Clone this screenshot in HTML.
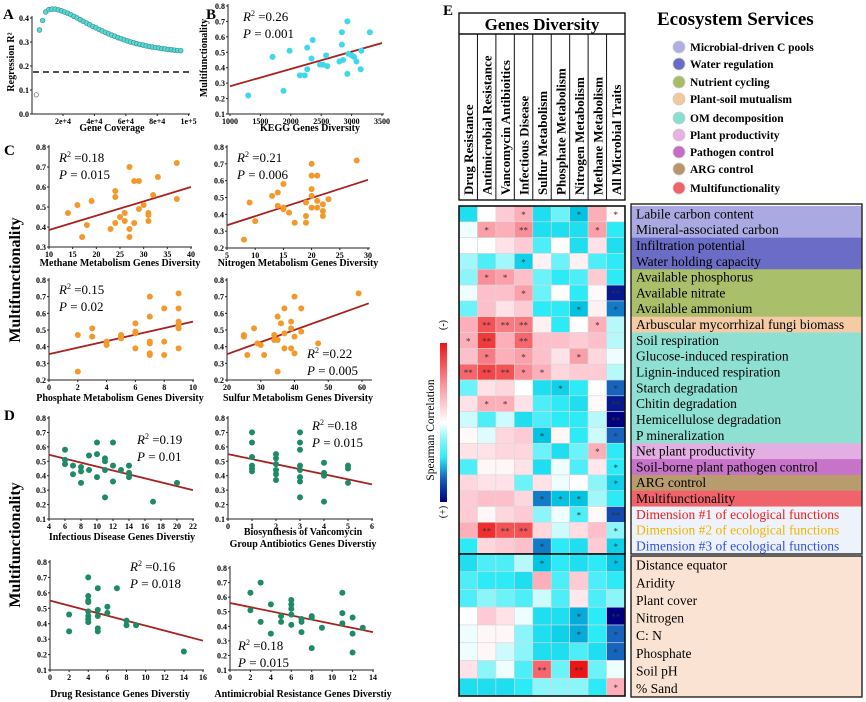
<!DOCTYPE html>
<html><head><meta charset="utf-8"><style>
html,body{margin:0;padding:0;background:#fff;}
svg{display:block;font-family:"Liberation Serif",serif;}
.tk{font-size:8px;font-weight:bold;}
.at{font-size:10px;font-weight:bold;}
.st{font-size:13px;}
</style></head><body>
<svg id="fig" width="866" height="702" viewBox="0 0 866 702" xmlns="http://www.w3.org/2000/svg"></svg>
<script>
// ---------- DATA ----------
const aCoverage=[5000,7000,9000,11000,13000,15000,17000,19000,21000,23000,25000,27000,29000,31000,33000,35000,37000,39000,41000,43000,45000,47000,49000,51000,53000,55000,57000,59000,61000,63000,65000,67000,69000,71000,73000,75000,77000,79000,81000,83000,85000,87000,89000,91000,93000,95000];
const aR2=[.35,.39,.425,.435,.437,.437,.434,.430,.425,.420,.414,.407,.400,.393,.386,.379,.372,.365,.359,.352,.346,.340,.334,.329,.324,.318,.314,.309,.305,.300,.297,.293,.290,.287,.284,.281,.279,.277,.275,.273,.271,.269,.268,.266,.265,.264];
const aHollow=[3000,0.08];
const aThreshold=0.175;
const aYTicks=[0,0.1,0.2,0.3,0.4];
const aXTicks=[20000,40000,60000,80000,100000];
const aXTickLabels=["2e+4","4e+4","6e+4","8e+4","1e+5"];

const bPts=[[1300,.22],[1700,.47],[1880,.25],[1980,.51],[2150,.35],[2230,.35],[2270,.39],[2270,.53],[2340,.46],[2360,.58],[2480,.42],[2530,.42],[2580,.48],[2600,.41],[2800,.44],[2840,.55],[2840,.63],[2860,.45],[2930,.36],[2930,.70],[2950,.49],[3000,.48],[3040,.47],[3080,.44],[3160,.51],[3150,.39],[3300,.63]];
const bLine=[[1000,.28],[3500,.56]];
const methanePts=[[14,.47],[16,.51],[17,.35],[18,.41],[19,.53],[23,.39],[24,.58],[24,.55],[24,.42],[25,.45],[26,.47],[26,.43],[27,.70],[27,.39],[27,.35],[28,.63],[28,.42],[29,.63],[29,.49],[30,.51],[31,.47],[31,.46],[31,.43],[32,.56],[33,.65],[37,.72],[37,.54]];
const methaneLine=[[10,.385],[40,.60]];
const nitrogenPts=[[8,.25],[9,.47],[10,.36],[13,.51],[14,.53],[14,.45],[15,.58],[15,.44],[15,.43],[16,.41],[17,.35],[19,.47],[19,.39],[19,.35],[20,.70],[20,.63],[20,.55],[20,.51],[20,.44],[21,.63],[21,.48],[21,.44],[22,.46],[22,.42],[22,.39],[23,.49],[28,.72]];
const nitrogenLine=[[5,.335],[30,.605]];
const phosphatePts=[[2,.47],[2,.25],[3,.51],[3,.46],[4,.43],[4,.41],[5,.47],[5,.46],[5,.45],[6,.54],[6,.49],[6,.48],[6,.39],[7,.70],[7,.58],[7,.43],[7,.42],[7,.36],[7,.35],[8,.63],[8,.43],[8,.35],[9,.72],[9,.63],[9,.55],[9,.53],[9,.51],[9,.39]];
const phosphateLine=[[0,.355],[10,.55]];
const sulfurPts=[[25,.47],[25,.46],[26,.35],[28,.51],[29,.42],[30,.41],[31,.35],[34,.47],[34,.44],[35,.58],[35,.44],[35,.25],[36,.54],[37,.63],[37,.48],[37,.39],[39,.55],[39,.51],[39,.39],[40,.70],[40,.46],[40,.36],[42,.63],[42,.49],[47,.42],[59,.72]];
const sulfurLine=[[20,.355],[62,.66]];
const infectPts=[[6,.58],[6,.51],[6,.48],[7,.47],[7,.41],[8,.46],[8,.43],[8,.35],[9,.54],[9,.44],[10,.63],[10,.55],[10,.39],[11,.52],[11,.50],[11,.44],[11,.25],[12,.63],[12,.47],[12,.36],[13,.44],[14,.47],[14,.42],[14,.39],[17,.22],[20,.35]];
const infectLine=[[4,.545],[22,.30]];
const vancoPts=[[1,.70],[1,.63],[1,.53],[1,.47],[1,.45],[1,.43],[2,.55],[2,.52],[2,.48],[2,.44],[2,.41],[2,.37],[3,.70],[3,.63],[3,.58],[3,.47],[3,.44],[3,.39],[3,.36],[3,.25],[4,.49],[4,.42],[4,.40],[4,.22],[5,.47],[5,.45],[5,.35]];
const vancoLine=[[0,.55],[6,.34]];
const drugPts=[[2,.46],[2,.35],[4,.70],[4,.58],[4,.55],[4,.54],[4,.48],[4,.45],[4,.43],[4,.41],[5,.63],[5,.49],[5,.45],[5,.37],[5,.35],[6,.51],[6,.47],[7,.63],[8,.42],[8,.39],[9,.39],[14,.22]];
const drugLine=[[0,.55],[16,.29]];
const amrPts=[[2,.63],[2,.51],[3,.70],[3,.43],[4,.55],[4,.35],[5,.47],[5,.43],[6,.58],[6,.55],[6,.52],[6,.48],[6,.41],[7,.45],[7,.43],[7,.36],[8,.47],[8,.46],[8,.25],[9,.39],[11,.63],[11,.49],[11,.42],[12,.46],[12,.35],[12,.22],[13,.39]];
const amrLine=[[0,.56],[14,.36]];

const geneCols=["Drug Resistance","Antimicrobial Resistance","Vancomycin Antibioitics","Infectious Disease","Sulfur Metabolism","Phosphate Metabolism","Nitrogen Metabolism","Methane Metabolism","All Microbial Traits"];
const upperRows=["Labile carbon content","Mineral-associated carbon","Infiltration potential","Water holding capacity","Available phosphorus","Available nitrate","Available ammonium","Arbuscular mycorrhizal fungi biomass","Soil respiration","Glucose-induced respiration","Lignin-induced respiration","Starch degradation","Chitin degradation","Hemicellulose degradation","P mineralization","Net plant productivity","Soil-borne plant pathogen control","ARG control","Multifunctionality","Dimension #1 of ecological functions","Dimension #2 of ecological functions","Dimension #3 of ecological functions"];
const lowerRows=["Distance equator","Aridity","Plant cover","Nitrogen","C: N","Phosphate","Soil pH","% Sand"];
const upperVals=[
[-.5,0,.2,.3,-.5,-.35,-.6,.3,.02],
[-.05,.35,.3,.4,-.5,-.5,-.5,.35,-.45],
[0,0,.1,.2,-.4,0,-.5,.1,-.5],
[-.25,-.4,-.25,-.55,.05,-.35,.05,-.4,-.45],
[-.3,.4,.35,.25,-.35,-.45,-.4,.2,-.45],
[-.05,.25,.25,.35,-.35,0,-.45,.02,-.95],
[-.35,.25,.1,.2,-.45,-.45,-.6,.05,-.75],
[.3,.55,.45,.45,.05,-.45,0,.3,-.2],
[.3,.65,.3,.5,.25,.25,.2,.25,-.2],
[.25,.45,.3,.35,.25,.1,.35,.15,-.05],
[.5,.6,.55,.4,.3,.15,.2,.2,-.2],
[-.35,.1,.15,0,-.5,-.55,-.45,0,-.8],
[.1,.3,.3,.1,-.4,-.45,-.5,.02,-.95],
[-.15,-.4,-.15,-.5,-.4,-.45,-.45,-.2,-1],
[.02,-.1,.15,.2,-.6,.03,-.45,-.15,-.8],
[.1,.1,.15,.15,-.35,-.5,-.35,.3,-.45],
[-.4,.03,.03,.1,-.5,-.05,-.4,.08,-.45],
[.15,.1,.1,-.35,.1,-.05,0,-.3,-.55],
[.2,.25,.25,.15,-.75,-.6,-.6,-.25,-.45],
[.2,.03,.15,.2,-.3,-.05,-.4,.02,-.85],
[.3,.7,.55,.55,.15,-.15,.12,.25,-.3],
[-.45,.15,.2,.25,-.75,-.45,-.5,.2,-.55]];
const upperSig=["...1..1.1",".1.2...1.",".........","...1.....",".11......","...1....2","......1.1",".222...1.","12.2.....",".1.1..1..","22211....",".....1..1",".11.....2","........2","....1...1",".......1.","........1","........1","....111..","......1.2",".222....1","....1...1"];
const lowerVals=[
[-.5,-.4,-.4,-.2,-.6,-.45,-.5,-.45,-.6],
[-.4,-.45,-.45,-.5,.3,-.4,.2,-.4,-.45],
[-.4,-.3,-.35,-.4,-.15,-.4,.08,-.4,-.3],
[0,.2,.1,-.05,-.5,-.5,-.65,-.45,-1],
[-.05,.03,.03,-.3,-.5,-.55,-.65,-.45,-.8],
[-.05,.03,-.15,-.3,-.5,-.5,-.4,-.5,-.8],
[.1,-.3,-.05,-.4,.5,-.35,.8,-.35,-.05],
[-.5,-.5,-.5,-.45,-.3,-.3,-.3,-.45,.3]];
const lowerSig=["....1...1",".........",".........","......1.2","......1.1","........1","....2.2..","........1"];
const legendNames=["Microbial-driven C pools","Water regulation","Nutrient cycling","Plant-soil mutualism","OM decomposition","Plant productivity","Pathogen control","ARG control","Multifunctionality"];
const legendColors=["#b0afe3","#6a6bc4","#a6bd66","#f2c99d","#86e0d0","#e9b0e4","#c46ec8","#b8956a","#f4606a"];
const upperRowBg=["#aaa9e1","#aaa9e1","#6b6cc6","#6b6cc6","#a9bf6a","#a9bf6a","#a9bf6a","#f4cba4","#8de0d2","#8de0d2","#8de0d2","#8de0d2","#8de0d2","#8de0d2","#8de0d2","#e3aee1","#c673c9","#b99c6e","#f0636b","#eef3fb","#eef3fb","#eef3fb"];
const upperRowTxt=["#000","#000","#000","#000","#000","#000","#000","#000","#000","#000","#000","#000","#000","#000","#000","#000","#000","#000","#000","#ee1c1c","#f0b400","#2e4fe0"];

// ---------- helpers ----------
const NS="http://www.w3.org/2000/svg";
const svg=document.getElementById('fig');
function mk(tag,attrs,parent,text){const e=document.createElementNS(NS,tag);for(const k in attrs)e.setAttribute(k,attrs[k]);if(text!==undefined)e.textContent=text;(parent||svg).appendChild(e);return e;}
function lin(d0,d1,r0,r1){return v=>r0+(v-d0)/(d1-d0)*(r1-r0);}
function fmt(v){return v.toFixed(1);}

function panel(name,ax,pts,line,color,yTicks,xTicks,xLabels){
  const g=mk('g',{});
  
  
  const X=lin(ax.xd[0],ax.xd[1],ax.xr[0],ax.xr[1]);
  const Y=lin(ax.yd[0],ax.yd[1],ax.yr[0],ax.yr[1]);
  const ya=mk('line',{x1:ax.axX,y1:ax.yr[0],x2:ax.axX,y2:ax.yr[1]-2,stroke:'#222','stroke-width':1},g);
  
  const xa=mk('line',{x1:ax.axX,y1:ax.yr[0],x2:ax.xEnd,y2:ax.yr[0],stroke:'#222','stroke-width':1},g);
  
  yTicks.forEach(t=>{const y=Y(t);
    mk('line',{x1:ax.axX-2,y1:y,x2:ax.axX,y2:y,stroke:'#222'},g);
    const tt=mk('text',{x:ax.axX-3,y:y+3,'text-anchor':'end',class:'tk'},g,fmt(t));
    });
  xTicks.forEach((t,i)=>{const x=X(t);
    mk('line',{x1:x,y1:ax.yr[0],x2:x,y2:ax.yr[0]+2,stroke:'#222'},g);
    const tt=mk('text',{x:x,y:ax.yr[0]+10,'text-anchor':'middle',class:'tk'},g,xLabels?xLabels[i]:String(t));
    });
  if(line){const l=mk('line',{x1:X(line[0][0]),y1:Y(line[0][1]),x2:X(line[1][0]),y2:Y(line[1][1]),stroke:'#a8211f','stroke-width':1.8},g);
    }
  pts.forEach(p=>{const c=mk('circle',{cx:X(p[0]),cy:Y(p[1]),r:ax.r||3,fill:color},g);
    });
  return {X,Y,g};
}
function txt(name,x,y,s,attrs){const t=mk('text',Object.assign({x:x,y:y},attrs||{}),svg,s);return t;}
function stats(name,x,y,r2,p){
  const t=mk('text',{x:x,y:y,class:'st'});
  mk('tspan',{'font-style':'italic'},t,'R');mk('tspan',{'font-size':'8','dy':'-5'},t,'2');mk('tspan',{'dy':'5'},t,' =' + r2);
  const u=mk('text',{x:x,y:y+17,class:'st'});
  mk('tspan',{'font-style':'italic'},u,'P');mk('tspan',{},u,' = '+p);
}

// ---------- Panel A ----------
{
 const ax={xd:[0,100000],xr:[31.6,188.6],yd:[0,0.4],yr:[114,18],axX:32,xEnd:190,r:2.4};
 const P=panel('panel-a-coverage',ax,[],null,'#4fd0d0',aYTicks,aXTicks,aXTickLabels);
 const d=mk('line',{x1:33,y1:P.Y(aThreshold),x2:190,y2:P.Y(aThreshold),stroke:'#111','stroke-width':1.6,'stroke-dasharray':'6,4'},P.g);
 
 const h=mk('circle',{cx:P.X(aHollow[0]),cy:P.Y(aHollow[1]),r:2.2,fill:'#fff',stroke:'#777','stroke-width':0.8},P.g);
 
 aCoverage.forEach((c,i)=>{const e=mk('circle',{cx:P.X(c),cy:P.Y(aR2[i]),r:2.4,fill:'#5ed6d2',stroke:'#2a8f8f','stroke-width':0.6},P.g);
   });
 txt('x-axis-title-a',112,131,'Gene Coverage',{class:'at','text-anchor':'middle'});
 txt('y-axis-title-a',0,0,'Regression R²',{class:'at','text-anchor':'middle',transform:'translate(14,62) rotate(-90)'});
}
// ---------- Panel B ----------
{
 const ax={xd:[1000,3500],xr:[230,382],yd:[0.1,0.8],yr:[114,6],axX:228,xEnd:384};
 panel('panel-b-kegg',ax,bPts,bLine,'#3fd8ea',[.1,.2,.3,.4,.5,.6,.7,.8],[1000,1500,2000,2500,3000,3500]);
 txt('x-axis-title-b',310,131,'KEGG Genes Diversity',{class:'at','text-anchor':'middle'});
 txt('y-axis-title-b',0,0,'Multifunctionality',{class:'at','font-size':'9','text-anchor':'middle',transform:'translate(207,58) rotate(-90)'});
 stats('b',243,21,'0.26','0.001');
}
// ---------- Panel C ----------
const orange='#f3982b';
panel('panel-c-methane',{xd:[10,40],xr:[49,191],yd:[.3,.8],yr:[247,147],axX:49,xEnd:192},methanePts,methaneLine,orange,[.3,.4,.5,.6,.7,.8],[10,15,20,25,30,35,40]);
panel('panel-c-nitrogen',{xd:[5,30],xr:[227,368],yd:[.2,.8],yr:[248,147],axX:227,xEnd:370},nitrogenPts,nitrogenLine,orange,[.2,.3,.4,.5,.6,.7,.8],[5,10,15,20,25,30]);
panel('panel-c-phosphate',{xd:[0,10],xr:[49,193],yd:[.2,.8],yr:[380,280],axX:49,xEnd:194},phosphatePts,phosphateLine,orange,[.2,.3,.4,.5,.6,.7,.8],[0,2,4,6,8,10]);
panel('panel-c-sulfur',{xd:[20,60],xr:[227,362],yd:[.2,.8],yr:[380,280],axX:227,xEnd:372},sulfurPts,sulfurLine,orange,[.2,.3,.4,.5,.6,.7,.8],[20,30,40,50,60]);
stats('c-methane',59,162,'0.18','0.015');
stats('c-nitrogen',237,162,'0.21','0.006');
stats('c-phosphate',59,294,'0.15','0.02');
stats('c-sulfur',307,358,'0.22','0.005');
txt('x-title-methane',120,266,'Methane Metabolism Genes Diversity',{class:'at','text-anchor':'middle'});
txt('x-title-nitrogen',298,266,'Nitrogen Metabolism Genes Diversity',{class:'at','text-anchor':'middle'});
txt('x-title-phosphate',120,401,'Phosphate Metabolism Genes Diversity',{class:'at','text-anchor':'middle'});
txt('x-title-sulfur',298,401,'Sulfur Metabolism Genes Diversity',{class:'at','text-anchor':'middle'});
txt('y-title-c',0,0,'Multifunctionality',{'font-size':'16','font-weight':'bold','text-anchor':'middle',transform:'translate(20,280) rotate(-90)'});
// ---------- Panel D ----------
const green='#1e8a66';
panel('panel-d-infectious',{xd:[4,22],xr:[49,193],yd:[.1,.8],yr:[519,418],axX:49,xEnd:194},infectPts,infectLine,green,[.1,.2,.3,.4,.5,.6,.7,.8],[4,6,8,10,12,14,16,18,20,22]);
panel('panel-d-vancomycin',{xd:[0,6],xr:[228,372],yd:[.1,.8],yr:[519,418],axX:228,xEnd:373},vancoPts,vancoLine,green,[.1,.2,.3,.4,.5,.6,.7,.8],[0,1,2,3,4,5,6]);
panel('panel-d-drug',{xd:[0,16],xr:[50,203],yd:[.1,.8],yr:[670,562],axX:50,xEnd:204},drugPts,drugLine,green,[.1,.2,.3,.4,.5,.6,.7,.8],[0,2,4,6,8,10,12,14,16]);
panel('panel-d-antimicrobial',{xd:[0,14],xr:[230,373],yd:[.1,.8],yr:[670,568],axX:230,xEnd:374},amrPts,amrLine,green,[.1,.2,.3,.4,.5,.6,.7,.8],[0,2,4,6,8,10,12,14]);
stats('d-infectious',137,444,'0.19','0.01');
stats('d-vancomycin',312,430,'0.18','0.015');
stats('d-drug',130,571,'0.16','0.018');
stats('d-antimicrobial',238,650,'0.18','0.015');
txt('x-title-infectious',122,540,'Infectious Disease Genes Diverstiy',{class:'at','text-anchor':'middle'});
txt('x-title-vanco-1',303,535,'Biosynthesis of Vancomycin',{class:'at','text-anchor':'middle'});
txt('x-title-vanco-2',303,547,'Group Antibiotics Genes Diverstiy',{class:'at','text-anchor':'middle'});
txt('x-title-drug',120,697,'Drug Resistance Genes Diverstiy',{class:'at','text-anchor':'middle'});
txt('x-title-antimicrobial',303,697,'Antimicrobial Resistance Genes Diverstiy',{class:'at','text-anchor':'middle'});
txt('y-title-d',0,0,'Multifunctionality',{'font-size':'16','font-weight':'bold','text-anchor':'middle',transform:'translate(20,545) rotate(-90)'});
[['A',3,19],['B',206,19],['C',4,155],['D',4,420],['E',443,15]].forEach(l=>txt('panel-label-'+l[0].toLowerCase(),l[1],l[2],l[0],{'font-size':'15','font-weight':'bold'}));

// ---------- Panel E heatmap ----------
function colorOf(v){
  const pos=[[0,[255,255,255]],[.1,[255,226,231]],[.25,[253,192,202]],[.4,[250,142,152]],[.55,[245,82,86]],[.8,[236,22,22]],[1,[200,0,0]]];
  const neg=[[0,[255,255,255]],[.15,[205,250,252]],[.3,[140,245,250]],[.45,[45,235,246]],[.6,[0,196,226]],[.8,[22,100,190]],[1,[0,0,128]]];
  const st=v>=0?pos:neg; const a=Math.min(1,Math.abs(v));
  for(let i=1;i<st.length;i++){if(a<=st[i][0]){const [a0,c0]=st[i-1],[a1,c1]=st[i];const f=(a-a0)/(a1-a0);
    return 'rgb('+c0.map((c,k)=>Math.round(c+(c1[k]-c)*f)).join(',')+')';}}
  return 'rgb(0,0,128)';
}
const HX0=459,HX1=625,CW=(HX1-HX0)/geneCols.length;
function heat(name,vals,sig,y0,y1){
  const g=mk('g',{});
  const RH=(y1-y0)/vals.length;
  vals.forEach((row,r)=>row.forEach((v,c)=>{
    const cell=mk('rect',{x:HX0+c*CW,y:y0+r*RH,width:CW,height:RH,fill:colorOf(v),stroke:'#d8d8d8','stroke-width':0.6},g);
    
    const s=sig[r][c];
    if(s==='1'||s==='2'){const t=mk('text',{x:HX0+c*CW+CW/2,y:y0+r*RH+RH/2+4,'text-anchor':'middle','font-size':'9',fill:'#333'},g,s==='2'?'**':'*');
      }
  }));
  const b=mk('rect',{x:HX0,y:y0,width:HX1-HX0,height:y1-y0,fill:'none',stroke:'#111','stroke-width':1.6},g);
  
  return RH;
}
heat('heatmap-ecosystem-services',upperVals,upperSig,206,554);
heat('heatmap-environment',lowerVals,lowerSig,554,696);

{
 const g=mk('g',{});
 mk('rect',{x:HX0,y:13,width:HX1-HX0,height:187,fill:'#fff',stroke:'#111','stroke-width':1.4},g);
 mk('line',{x1:HX0,y1:34,x2:HX1,y2:34,stroke:'#111','stroke-width':1.4},g);
 const tt=mk('text',{x:(HX0+HX1)/2,y:30,'text-anchor':'middle','font-size':'17','font-weight':'bold'},g,'Genes Diversity');
 
 geneCols.forEach((c,i)=>{
   if(i>0) mk('line',{x1:HX0+i*CW,y1:34,x2:HX0+i*CW,y2:200,stroke:'#111','stroke-width':1},g);
   const t=mk('text',{x:0,y:0,'font-size':'13','font-weight':'bold',transform:'translate('+(HX0+i*CW+CW/2+5)+',195) rotate(-90)'},g,c);
   
 });
}
{
 const defs=mk('defs',{});
 const lg=mk('linearGradient',{id:'cb',x1:0,y1:0,x2:0,y2:1},defs);
 [[0,.8],[.25,.4],[.5,0],[.6,-.3],[.72,-.45],[.85,-.8],[1,-1]].forEach(s=>mk('stop',{offset:s[0],'stop-color':colorOf(s[1])},lg));
 const r=mk('rect',{x:440,y:343,width:7,height:159,fill:'url(#cb)'});
 
 txt('colorbar-neg-label',0,0,'(-)',{'font-size':'10','text-anchor':'middle',transform:'translate(446,325) rotate(-90)'});
 txt('colorbar-pos-label',0,0,'(+)',{'font-size':'10','text-anchor':'middle',transform:'translate(446,512) rotate(-90)'});
 txt('colorbar-title',0,0,'Spearman  Correlation',{'font-size':'11.5','text-anchor':'middle',transform:'translate(434,430) rotate(-90)'});
}
txt('legend-title',657,25,'Ecosystem Services',{'font-size':'19','font-weight':'bold'});
legendNames.forEach((n,i)=>{
 const y=[47,64,82,99,118,135,152,169,188][i];
 const c=mk('circle',{cx:679,cy:y,r:6,fill:legendColors[i],stroke:'#ccc','stroke-width':0.8});
 
 txt('legend-entry',690,y+4,n,{'font-size':'11.5','font-weight':'bold'});
});
{
 const RH=(554-206)/upperRows.length;
 upperRows.forEach((n,i)=>{
   const r=mk('rect',{x:631,y:206+i*RH,width:231,height:RH+0.3,fill:upperRowBg[i]});
   
   txt('row-label',636,206+i*RH+RH-3.5,n,{'font-size':'13.5',fill:upperRowTxt[i]});
 });
 const b=mk('rect',{x:631,y:204,width:231,height:350,fill:'none',stroke:'#222','stroke-width':1.4});
 
 const lb=mk('rect',{x:631,y:556,width:231,height:141,fill:'#fbe3d3',stroke:'#222','stroke-width':1.4});
 
 const LH=141/lowerRows.length;
 lowerRows.forEach((n,i)=>txt('env-row-label',636,556+i*LH+LH-4,n,{'font-size':'13.5'}));
}
</script>
</body></html>
